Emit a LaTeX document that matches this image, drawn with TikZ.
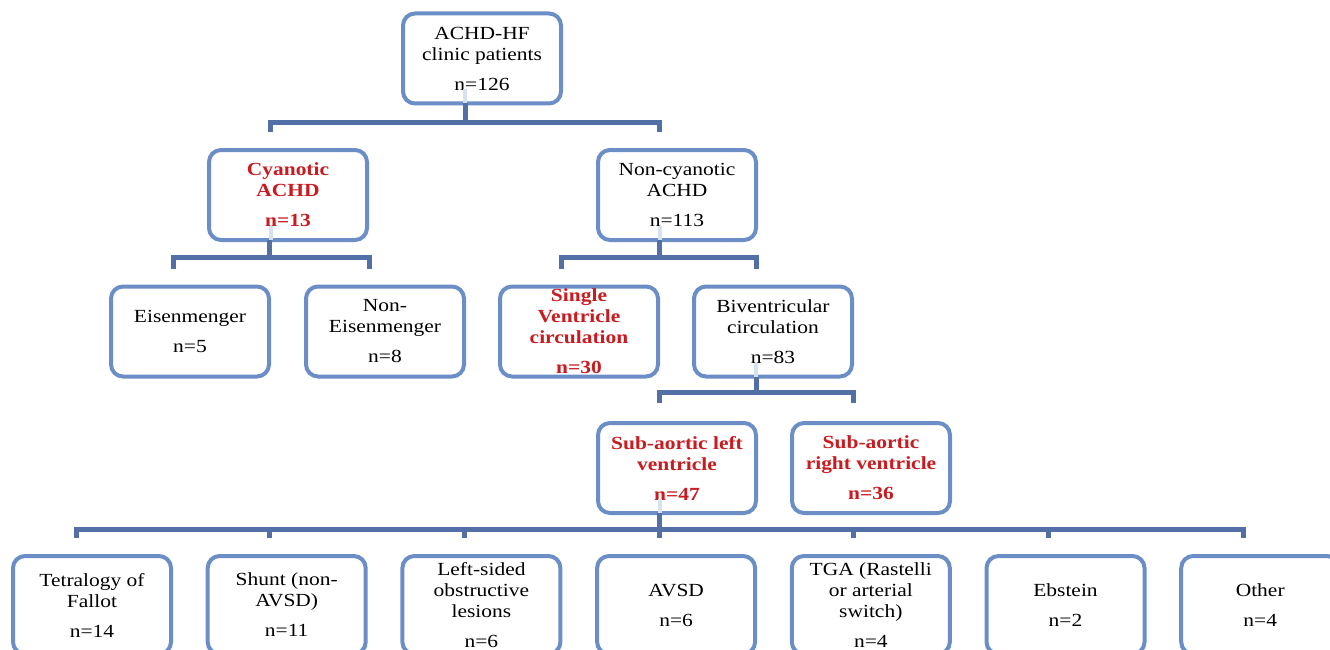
\documentclass[tikz,border=0pt]{standalone}
\usepackage{fontspec}
\setmainfont{Liberation Serif}[FakeStretch=1.16]
\usetikzlibrary{calc}
\definecolor{boxblue}{RGB}{108,142,198}
\definecolor{connblue}{RGB}{82,111,166}
\definecolor{faintblue}{RGB}{214,225,242}
\definecolor{redtxt}{RGB}{200,28,32}
\tikzset{
  box/.style={draw=boxblue, line width=4pt, rounded corners=12pt, fill=white,
    minimum width=158pt, minimum height=90pt, inner sep=0pt, align=center,
    font=\fontsize{18.5}{21}\selectfont, text=black},
  redbox/.style={box, font=\fontsize{18.5}{21}\selectfont\bfseries, text=redtxt},
  lowbox/.style={box, minimum height=98pt},
  conn/.style={draw=connblue, line width=5pt},
  faint/.style={draw=faintblue, line width=4pt}
}
\begin{document}
\begin{tikzpicture}[x=1pt,y=-1pt]
\useasboundingbox (0,0) rectangle (1330,650);
\clip (0,0) rectangle (1330,650);
\fill[white] (0,0) rectangle (1330,650);

% nodes
\node[box] (top) at (482,58.5) {ACHD-HF\\clinic patients\\[9pt]n=126};
\node[redbox] (cyan) at (288,195) {Cyanotic\\ACHD\\[9pt]n=13};
\node[box] (noncyan) at (677,195) {Non-cyanotic\\ACHD\\[9pt]n=113};
\node[box] (eis) at (190,331.5) {Eisenmenger\\[9pt]n=5};
\node[box] (noneis) at (385,331.5) {Non-\\Eisenmenger\\[9pt]n=8};
\node[redbox] (single) at (579,331.5) {Single\\Ventricle\\circulation\\[9pt]n=30};
\node[box] (biv) at (773,331.5) {Biventricular\\circulation\\[9pt]n=83};
\node[redbox] (subl) at (677,468) {Sub-aortic left\\ventricle\\[9pt]n=47};
\node[redbox] (subr) at (871,468) {Sub-aortic\\right ventricle\\[9pt]n=36};
\node[lowbox] (tof) at (92,605) {Tetralogy of\\Fallot\\[9pt]n=14};
\node[lowbox] (shunt) at (286.7,605) {Shunt (non-\\AVSD)\\[9pt]n=11};
\node[lowbox] (lso) at (481.4,605) {Left-sided\\obstructive\\lesions\\[9pt]n=6};
\node[lowbox] (avsd) at (676.1,605) {AVSD\\[9pt]n=6};
\node[lowbox] (tga) at (870.8,605) {TGA (Rastelli\\or arterial\\switch)\\[9pt]n=4};
\node[lowbox] (ebs) at (1065.5,605) {Ebstein\\[9pt]n=2};
\node[lowbox] (oth) at (1260.2,605) {Other\\[9pt]n=4};

% faint stem traces inside parent boxes
\foreach \p in {top,cyan,noncyan,biv,subl}{
  \draw[faint] ($(\p.south)+(-17,-2)$) -- ++(0,-14);
}

% level 1
\coordinate (b1) at ($(top.south)+(-17,17)$);
\draw[conn] ($(top.south)+(-17,-2)$) -- (b1);
\draw[conn] ($(cyan.north)+(-18,-16)$) |- (b1) -| ($(noncyan.north)+(-18,-16)$);

% level 2a
\coordinate (b2) at ($(cyan.south)+(-19,15)$);
\draw[conn] ($(cyan.south)+(-19,-2)$) -- (b2);
\draw[conn] ($(eis.north)+(-17,-16)$) |- (b2) -| ($(noneis.north)+(-16,-16)$);

% level 2b
\coordinate (b3) at ($(noncyan.south)+(-18,15)$);
\draw[conn] ($(noncyan.south)+(-18,-2)$) -- (b3);
\draw[conn] ($(single.north)+(-18,-16)$) |- (b3) -| ($(biv.north)+(-17,-16)$);

% level 3
\coordinate (b4) at ($(biv.south)+(-17,14)$);
\draw[conn] ($(biv.south)+(-17,-2)$) -- (b4);
\draw[conn] ($(subl.north)+(-18,-18)$) |- (b4) -| ($(subr.north)+(-18,-18)$);

% level 4
\coordinate (b5) at ($(subl.south)+(-18,14)$);
\draw[conn] ($(subl.south)+(-18,-2)$) -- (b5);
\draw[conn] ($(tof.north)+(-16,-16)$) |- (b5) -| ($(oth.north)+(-17,-16)$);
\foreach \c in {shunt,lso,avsd,tga,ebs}{
  \draw[conn] ($(\c.north)+(-17,-16)$) -- ($(\c.north)+(-17,-27)$);
}
\end{tikzpicture}
\end{document}
